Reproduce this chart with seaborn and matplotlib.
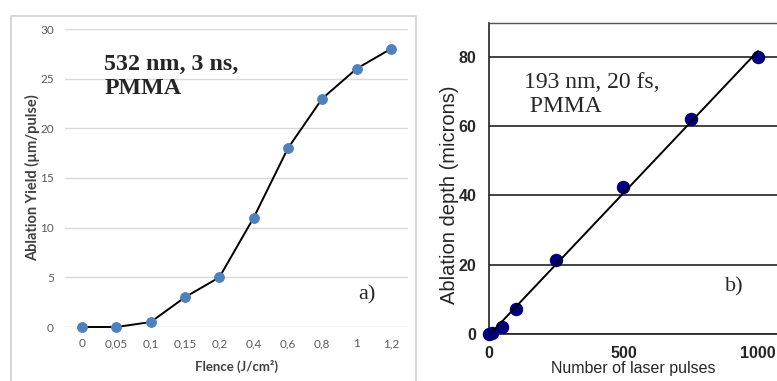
import numpy as np
import seaborn as sns
import matplotlib.pyplot as plt
from matplotlib.patches import Rectangle

# panel a) data: ablation yield vs fluence (categorical axis)
fluence_labels = ['0', '0,05', '0,1', '0,15', '0,2', '0,4', '0,6', '0,8', '1', '1,2']
yield_um = [0, 0, 0.5, 3, 5, 11, 18, 23, 26, 28]

# panel b) data: ablation depth vs number of pulses
pulses = [0, 10, 50, 100, 250, 500, 750, 1000]
depth_um = [0, 0.3, 2.0, 7.2, 21.5, 42.5, 62, 80]

sns.set_style('white')
plt.rcParams['font.family'] = ['Lato', 'DejaVu Sans']

fig = plt.figure(figsize=(7.77, 3.81), dpi=100)

# frame around panel a (excel chart border)
fig.patches.append(Rectangle((11 / 777, -0.05), (416 - 11) / 777, 1 - 16 / 381 + 0.05,
                             transform=fig.transFigure, fill=False,
                             edgecolor='#d0d0d0', linewidth=1.2, zorder=0))

# ---------------- panel a ----------------
ax1 = fig.add_axes([65 / 777, 1 - 327 / 381, 343 / 777, 298 / 381])
pos = np.arange(len(fluence_labels))
sns.lineplot(x=pos, y=yield_um, ax=ax1, color='black', linewidth=1.4,
             marker='o', markersize=7, markerfacecolor='#4f81bd',
             markeredgecolor='#4f81bd', clip_on=False, zorder=3)
ax1.set_xlim(-0.5, len(fluence_labels) - 0.5)
ax1.set_ylim(0, 30)
ax1.set_yticks([0, 5, 10, 15, 20, 25, 30])
ax1.set_xticks(pos)
ax1.set_xticklabels(fluence_labels)
ax1.yaxis.grid(True, color='#d9d9d9', linewidth=1)
ax1.xaxis.grid(False)
for s in ax1.spines.values():
    s.set_visible(False)
ax1.axhline(0, color='#d9d9d9', linewidth=1, zorder=1)
ax1.tick_params(axis='both', length=0, labelsize=8.5, labelcolor='#595959', pad=8)
ax1.set_xlabel('Flence (J/cm²)', fontsize=9.5, color='#404040', fontweight='bold', labelpad=8)
ax1.set_ylabel('Ablation Yield (µm/pulse)', fontsize=10.5, color='#404040', fontweight='bold', labelpad=0)
ax1.text(0.115, 0.766, '532 nm, 3 ns,\nPMMA', transform=ax1.transAxes,
         family='Liberation Serif', fontweight='bold', fontsize=17.3,
         linespacing=1.2, va='bottom', ha='left')
ax1.text(0.855, 0.075, 'a)', transform=ax1.transAxes, family='Liberation Serif',
         fontsize=16, va='bottom', ha='left')

# ---------------- panel b ----------------
ax2 = fig.add_axes([489 / 777, 1 - 334 / 381, (777 - 489) / 777, 311 / 381])
sns.regplot(x=pulses, y=depth_um, ax=ax2, ci=None, truncate=True,
            scatter_kws=dict(s=75, color='#00007f', clip_on=False, zorder=3, alpha=1),
            line_kws=dict(color='black', linewidth=1.4, zorder=4))
ax2.set_xlim(0, 1071)
ax2.set_ylim(0, 89.8)
ax2.set_xticks([0, 500, 1000])
ax2.set_yticks([0, 20, 40, 60, 80])
ax2.yaxis.grid(True, color='#222222', linewidth=1.2)
ax2.xaxis.grid(False)
ax2.spines['right'].set_visible(False)
ax2.spines['top'].set_color('#555555')
ax2.spines['top'].set_linewidth(1)
for k in ('left', 'bottom'):
    ax2.spines[k].set_color('#222222')
    ax2.spines[k].set_linewidth(1.2)
ax2.tick_params(axis='both', direction='out', length=3, width=1, color='#444444',
                labelsize=11.5, pad=6)
for lbl in ax2.get_xticklabels() + ax2.get_yticklabels():
    lbl.set_family(['Liberation Sans Narrow', 'Liberation Sans'])
    lbl.set_fontstretch('condensed')
    lbl.set_fontweight('bold')
ax2.set_xlabel('Number of laser pulses', family='Liberation Sans', fontsize=11.5, labelpad=0)
ax2.set_ylabel('Ablation depth (microns)', family='Liberation Sans', fontsize=14.5)
ax2.yaxis.set_label_coords(-0.105, 0.447)
ax2.text(0.12, 0.698, '193 nm, 20 fs,\n PMMA', transform=ax2.transAxes,
         family='Liberation Serif', fontsize=17, linespacing=1.2,
         va='bottom', ha='left')
ax2.text(0.82, 0.12, 'b)', transform=ax2.transAxes, family='Liberation Serif',
         fontsize=16, va='bottom', ha='left')

fig.savefig('out.png', dpi=100)
